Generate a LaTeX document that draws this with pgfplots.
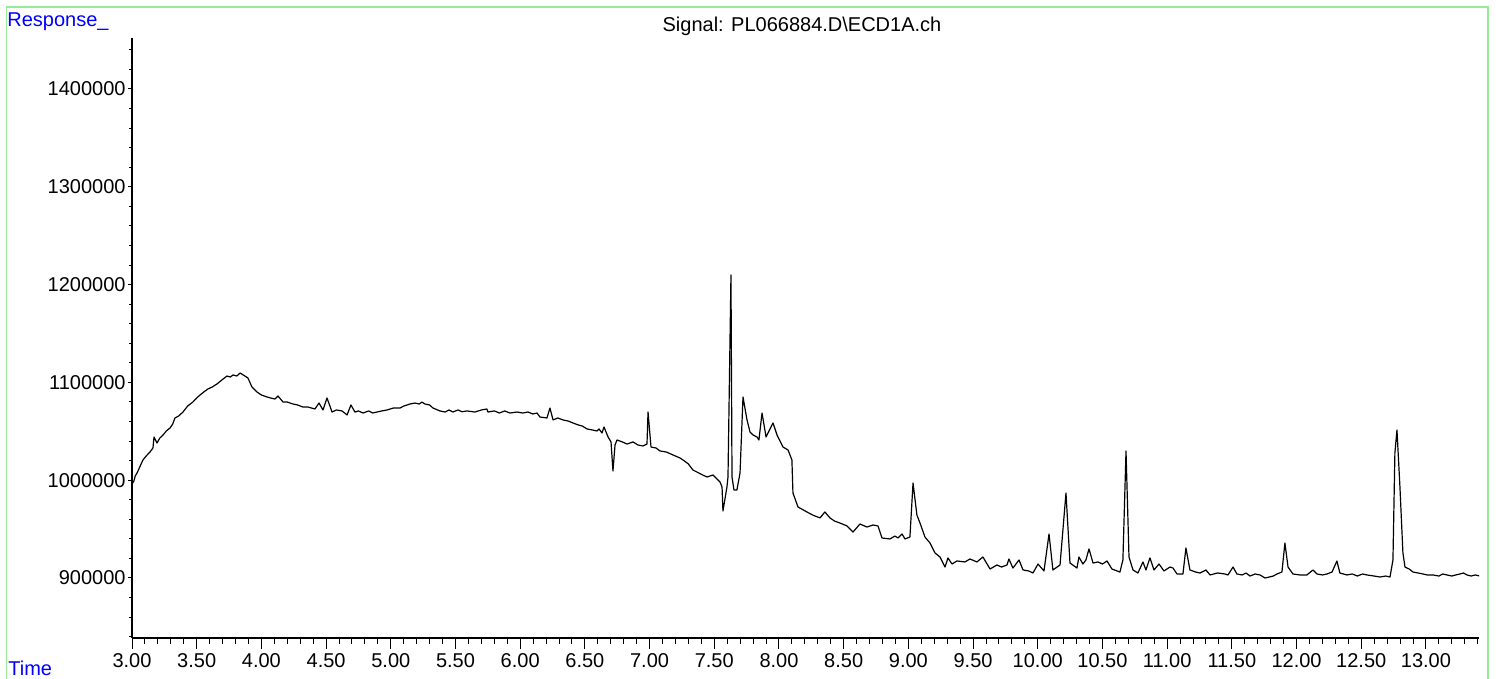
\documentclass[border=0pt]{standalone}
\usepackage{pgfplots}
\pgfplotsset{compat=1.18}
\usepackage{fontspec}
\setmainfont{Liberation Sans}
\definecolor{frameg}{RGB}{150,235,150}
\definecolor{lblblue}{RGB}{0,0,255}
\begin{document}
\begin{tikzpicture}[x=0.5pt,y=0.5pt]
\useasboundingbox (0,0) rectangle (1496,679);
\draw[frameg, line width=0.9pt] (6.5,-20) rectangle (1488,672);
\node[anchor=base, font=\fontsize{10}{12}\selectfont] at (802,647) {Signal: PL066884.D\textbackslash ECD1A.ch};
\node[anchor=base west, inner sep=0pt, text=lblblue, font=\fontsize{10}{12}\selectfont] at (7,652) {Response\_};
\node[anchor=base west, inner sep=0pt, text=lblblue, font=\fontsize{10}{12}\selectfont] at (8,3) {Time};
% x axis
\begin{axis}[at={(66pt,20.5pt)}, anchor=south west, scale only axis,
  width=673.5pt, height=300pt,
  xmin=3, xmax=13.41, ymin=838650, ymax=1452150,
  axis x line=bottom, axis y line=none, axis line style={-, line width=0.6pt},
  tick align=outside, major tick length=5.5pt, minor tick length=3.2pt,
  xtick distance=0.5, minor x tick num=4,
  every tick/.style={black, line width=0.5pt},
  xticklabel style={font=\fontsize{10}{12}\selectfont, inner sep=1pt, yshift=-1pt},
  /pgf/number format/.cd, fixed, fixed zerofill, precision=2, assume math mode=true]
\end{axis}
% y axis and data
\begin{axis}[at={(66pt,20.5pt)}, anchor=south west, scale only axis,
  width=673.5pt, height=300pt,
  xmin=3, xmax=13.41, ymin=838650, ymax=1452150,
  axis y line=left, axis x line=none, axis line style={-, line width=0.6pt},
  tick align=outside, major tick length=2pt, minor tick length=1.5pt,
  ytick distance=100000, minor y tick num=4, scaled y ticks=false,
  every tick/.style={black, line width=0.5pt},
  yticklabel style={font=\fontsize{10}{12}\selectfont, inner sep=1pt},
  yticklabel={\pgfmathprintnumber[fixed, precision=0, set thousands separator={}, assume math mode=true]{\tick}}]
\addplot[black, line width=0.6pt, line join=round] table {
x y
3.000 996100
3.015 999200
3.025 1004300
3.039 1007400
3.060 1013500
3.085 1020700
3.110 1024800
3.139 1028800
3.162 1032900
3.170 1044200
3.193 1038000
3.215 1043100
3.240 1046200
3.265 1050300
3.294 1053400
3.315 1057500
3.332 1063600
3.360 1065600
3.394 1069700
3.430 1075800
3.471 1080000
3.500 1084100
3.526 1087100
3.555 1090200
3.587 1093300
3.620 1095300
3.657 1098400
3.695 1102500
3.734 1106500
3.760 1105500
3.781 1107600
3.810 1106500
3.835 1109600
3.873 1106500
3.896 1104500
3.927 1095300
3.966 1090200
4.000 1087100
4.043 1085100
4.070 1084100
4.105 1083000
4.128 1086100
4.167 1080000
4.200 1079900
4.244 1077900
4.280 1076900
4.321 1074800
4.360 1074800
4.414 1072800
4.445 1078900
4.476 1071800
4.507 1084100
4.546 1069700
4.580 1071800
4.623 1070800
4.662 1066700
4.692 1076900
4.723 1069700
4.750 1070800
4.785 1068700
4.830 1070800
4.860 1068700
4.893 1069700
4.930 1070800
4.971 1071800
5.020 1073800
5.071 1073800
5.100 1075800
5.148 1077900
5.187 1078900
5.220 1077900
5.240 1079900
5.264 1077900
5.300 1076900
5.326 1073800
5.380 1070800
5.420 1069700
5.450 1071800
5.480 1069700
5.520 1071800
5.550 1070000
5.589 1070800
5.650 1069700
5.700 1071800
5.743 1072800
5.751 1069700
5.800 1070800
5.840 1068700
5.880 1070800
5.921 1068700
5.975 1069700
6.020 1068700
6.060 1069700
6.099 1067700
6.130 1068700
6.153 1064600
6.207 1063600
6.230 1073800
6.254 1061600
6.290 1063600
6.331 1061600
6.370 1060500
6.408 1058500
6.450 1056400
6.480 1055400
6.516 1052400
6.560 1051300
6.594 1050300
6.609 1052400
6.632 1048300
6.648 1054400
6.679 1044200
6.702 1039100
6.717 1009400
6.733 1036000
6.748 1041100
6.790 1039100
6.825 1037000
6.872 1039100
6.910 1036000
6.949 1035000
6.980 1037000
6.988 1069700
7.011 1033900
7.050 1032900
7.080 1029900
7.130 1028800
7.181 1025800
7.235 1022700
7.270 1019600
7.300 1016600
7.335 1010400
7.380 1007400
7.410 1005300
7.444 1003300
7.490 1005300
7.544 998200
7.560 993000
7.567 968500
7.598 993000
7.606 1003300
7.629 1209800
7.637 1003300
7.652 990000
7.675 990000
7.699 1007400
7.722 1085100
7.753 1061600
7.776 1049300
7.800 1046200
7.830 1044200
7.845 1041100
7.869 1068700
7.900 1044200
7.954 1058500
7.985 1046200
8.031 1033900
8.070 1030900
8.100 1020700
8.108 986900
8.147 972600
8.216 967500
8.260 964400
8.317 961400
8.355 967500
8.394 961400
8.430 958200
8.471 956200
8.526 953200
8.572 947000
8.626 955200
8.680 952100
8.726 954200
8.765 953200
8.796 940900
8.858 939900
8.896 942900
8.920 940900
8.951 945000
8.974 939900
9.012 941900
9.036 997100
9.066 964400
9.090 956200
9.128 941900
9.167 935800
9.206 925600
9.244 921500
9.283 911200
9.306 920500
9.337 914300
9.376 917400
9.437 916400
9.476 919400
9.530 916400
9.576 921500
9.631 909200
9.685 913300
9.720 911200
9.762 913300
9.777 919400
9.808 910200
9.855 918400
9.886 908200
9.930 907200
9.963 905100
10.002 914300
10.048 907200
10.087 945000
10.117 908200
10.172 913300
10.218 986900
10.249 915300
10.303 910200
10.318 921500
10.349 914300
10.372 918400
10.396 929700
10.427 915300
10.465 916400
10.500 914300
10.535 917400
10.573 909200
10.635 906100
10.658 918400
10.682 1029900
10.705 921500
10.736 908200
10.774 905100
10.813 916400
10.836 908200
10.867 920500
10.898 908200
10.937 914300
10.975 907200
11.022 911200
11.045 910200
11.076 904100
11.122 904100
11.145 930700
11.176 908200
11.220 906100
11.253 905100
11.300 908200
11.331 903100
11.390 905100
11.447 904100
11.470 903100
11.509 911200
11.539 904100
11.580 903100
11.610 905100
11.640 902000
11.680 904100
11.717 903100
11.756 900000
11.790 901000
11.820 902000
11.849 904100
11.887 906100
11.910 935800
11.934 911200
11.972 904100
12.026 903100
12.080 903100
12.127 908200
12.158 904100
12.200 903100
12.235 904100
12.274 906100
12.312 917400
12.335 905100
12.389 903100
12.430 904100
12.470 902000
12.510 904100
12.544 903100
12.600 902000
12.645 901000
12.690 902000
12.722 901000
12.745 918400
12.760 1027800
12.776 1051300
12.799 993000
12.822 925600
12.838 911200
12.870 909200
12.900 906100
12.940 905100
12.977 904100
13.010 903100
13.054 903100
13.100 902000
13.130 904100
13.162 903100
13.200 902000
13.230 903100
13.263 904100
13.290 905100
13.317 903100
13.350 902000
13.380 903100
13.417 902000
};
\end{axis}
\end{tikzpicture}
\end{document}
